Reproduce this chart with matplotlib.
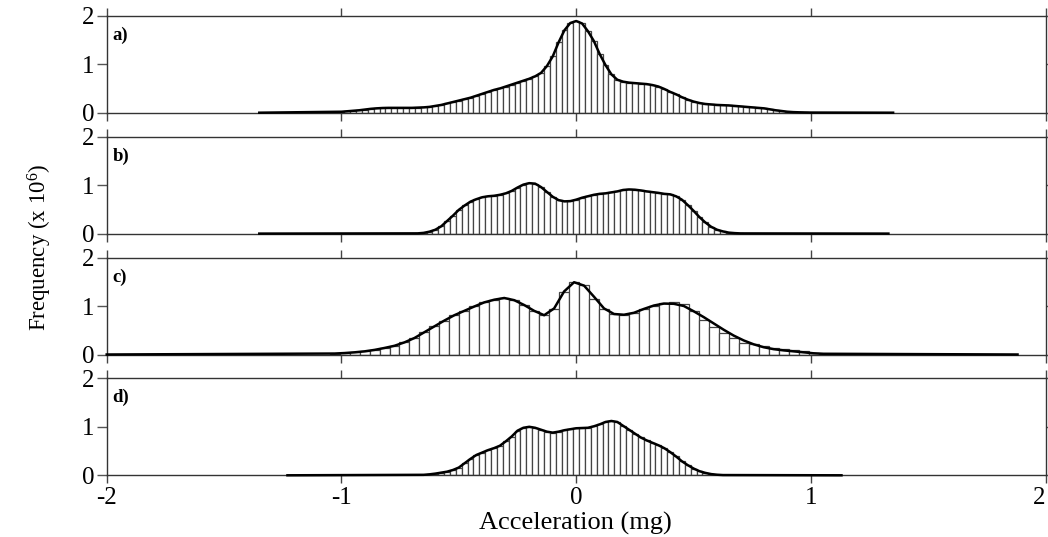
import numpy as np
import matplotlib
matplotlib.use("Agg")
import matplotlib.pyplot as plt

plt.rcParams['font.family'] = ['Liberation Serif', 'DejaVu Serif']
plt.rcParams['mathtext.default'] = 'regular'

# ---------------- data (frequency x 10^6) ----------------
panel_labels = ["a)", "b)", "c)", "d)"]
x_ticks = [-2, -1, 0, 1, 2]
x_tick_labels = ["-2", "-1", "0", "1", "2"]
y_ticks = [0, 1, 2]

# panel a: bins of 0.025 starting at -1.0
a_start, a_width = -1.0, 0.025
a_values = [0.02, 0.03, 0.04, 0.05, 0.065, 0.08, 0.09, 0.097, 0.10, 0.10,
            0.10, 0.10, 0.10, 0.105, 0.11, 0.12, 0.14, 0.16, 0.19, 0.22,
            0.25, 0.28, 0.31, 0.35, 0.39, 0.43, 0.47, 0.50, 0.54, 0.58,
            0.62, 0.66, 0.70, 0.75, 0.82, 0.96, 1.16, 1.45, 1.70, 1.85,
            1.89, 1.84, 1.68, 1.48, 1.21, 0.98, 0.79, 0.68, 0.64, 0.62,
            0.61, 0.60, 0.59, 0.57, 0.54, 0.49, 0.43, 0.38, 0.32, 0.27,
            0.23, 0.20, 0.18, 0.17, 0.16, 0.155, 0.15, 0.14, 0.13, 0.12,
            0.11, 0.10, 0.09, 0.07, 0.05, 0.035, 0.02, 0.012, 0.008, 0.005,
            0.003]
a_tails = (-1.35, 1.35)

# panel b: bins of 0.025 starting at -0.675
b_start, b_width = -0.675, 0.025
b_values = [0.005, 0.015, 0.04, 0.08, 0.15, 0.26, 0.37, 0.49, 0.58, 0.66,
            0.71, 0.75, 0.77, 0.78, 0.80, 0.83, 0.88, 0.95, 1.01, 1.04,
            1.03, 0.96, 0.86, 0.76, 0.69, 0.665, 0.67, 0.70, 0.74, 0.77,
            0.80, 0.82, 0.83, 0.85, 0.87, 0.90, 0.91, 0.905, 0.89, 0.87,
            0.855, 0.84, 0.82, 0.81, 0.77, 0.70, 0.59, 0.47, 0.34, 0.23,
            0.14, 0.08, 0.045, 0.02, 0.01, 0.004]
b_tails = (-1.35, 1.33)

# panel c: bins of 0.0425 starting at -1.029
c_start, c_width = -1.029, 0.0425
c_values = [0.02, 0.03, 0.045, 0.065, 0.095, 0.135, 0.18, 0.25, 0.34, 0.46,
            0.58, 0.70, 0.81, 0.90, 0.99, 1.075, 1.13, 1.165, 1.12, 1.02,
            0.90, 0.81, 0.94, 1.28, 1.49, 1.43, 1.15, 0.93, 0.835, 0.82,
            0.86, 0.94, 1.01, 1.07, 1.09, 1.045, 0.89, 0.72, 0.56, 0.435,
            0.33, 0.24, 0.21, 0.17, 0.14, 0.11, 0.09, 0.07, 0.04, 0.015]
c_curve = [0.02, 0.03, 0.045, 0.065, 0.095, 0.135, 0.18, 0.25, 0.34, 0.46,
           0.58, 0.70, 0.81, 0.90, 0.99, 1.075, 1.13, 1.165, 1.12, 1.02,
           0.90, 0.81, 0.95, 1.30, 1.49, 1.42, 1.19, 0.95, 0.835, 0.82,
           0.86, 0.94, 1.01, 1.05, 1.045, 1.00, 0.89, 0.77, 0.64, 0.51,
           0.39, 0.29, 0.21, 0.15, 0.11, 0.085, 0.065, 0.045, 0.025, 0.015]
c_tails = (-2.0, 1.88)

# panel d: bins of 0.025 starting at -0.65
d_start, d_width = -0.65, 0.025
d_values = [0.01, 0.02, 0.035, 0.055, 0.075, 0.11, 0.16, 0.25, 0.34, 0.42,
            0.47, 0.52, 0.56, 0.61, 0.70, 0.80, 0.92, 0.98, 1.00, 0.98,
            0.94, 0.90, 0.88, 0.90, 0.93, 0.95, 0.97, 0.975, 0.98, 1.01,
            1.05, 1.10, 1.12, 1.10, 1.02, 0.94, 0.86, 0.78, 0.72, 0.67,
            0.62, 0.56, 0.48, 0.39, 0.29, 0.21, 0.14, 0.085, 0.05, 0.025,
            0.012, 0.005]
d_tails = (-1.23, 1.13)

panels = [
    (a_start, a_width, a_values, a_values, a_tails),
    (b_start, b_width, b_values, b_values, b_tails),
    (c_start, c_width, c_values, c_curve, c_tails),
    (d_start, d_width, d_values, d_values, d_tails),
]

# ---------------- figure ----------------
W, H = 1048, 537
fig = plt.figure(figsize=(W / 100, H / 100), dpi=100)

left_px, right_px = 106.7, 1045.7
tops_px = [15.7, 136.6, 257.5, 378.3]
h_px = 97.0
spine_c = '#333333'

axes = []
for i, (start, width, vals, curve, tails) in enumerate(panels):
    top = tops_px[i]
    ax = fig.add_axes([left_px / W, 1 - (top + h_px) / H,
                       (right_px - left_px) / W, h_px / H])
    axes.append(ax)
    vals = np.asarray(vals, float)
    curve = np.asarray(curve, float)
    centers = start + width * np.arange(len(vals))
    ax.bar(centers, vals, width=width, color='white', edgecolor='#444444',
           linewidth=0.9, zorder=2)
    xs = np.concatenate([[tails[0]], centers, [tails[1]]])
    ys = np.concatenate([[0.0], curve, [0.0]])
    ax.plot(xs, ys, color='black', lw=1.8, zorder=3, clip_on=False,
            solid_joinstyle='round')

    ax.set_xlim(-2, 2)
    ax.set_ylim(0, 2)
    ax.set_xticks(x_ticks)
    ax.set_yticks(y_ticks)
    ax.set_yticklabels([str(t) for t in y_ticks])
    for s in ax.spines.values():
        s.set_color(spine_c)
        s.set_linewidth(1.0)
    ax.tick_params(axis='x', which='both', direction='out', top=True,
                   bottom=True, length=5.5, width=1.0, color='#444444',
                   labelsize=18, pad=3)
    ax.tick_params(axis='y', which='both', direction='out', left=True,
                   right=True, length=7, width=1.0, color='#555555',
                   labelsize=18, pad=2, labelright=False)
    if i < 3:
        ax.tick_params(axis='x', labelbottom=False)
    else:
        ax.set_xticklabels(x_tick_labels)
        lbls = ax.get_xticklabels()
        lbls[-1].set_horizontalalignment('right')
    ax.text(0.006, 0.80, panel_labels[i], transform=ax.transAxes,
            fontsize=13.5, fontweight='bold', ha='left', va='center')

fig.text(575 / W, 1 - 523 / H, "Acceleration (mg)", ha='center',
         va='center', fontsize=19)
fig.text(40 / W, 1 - 247 / H, "Frequency (x 10$^{6}$)", ha='center',
         va='center', rotation=90, fontsize=16.5)

fig.savefig("out.png", dpi=100)
